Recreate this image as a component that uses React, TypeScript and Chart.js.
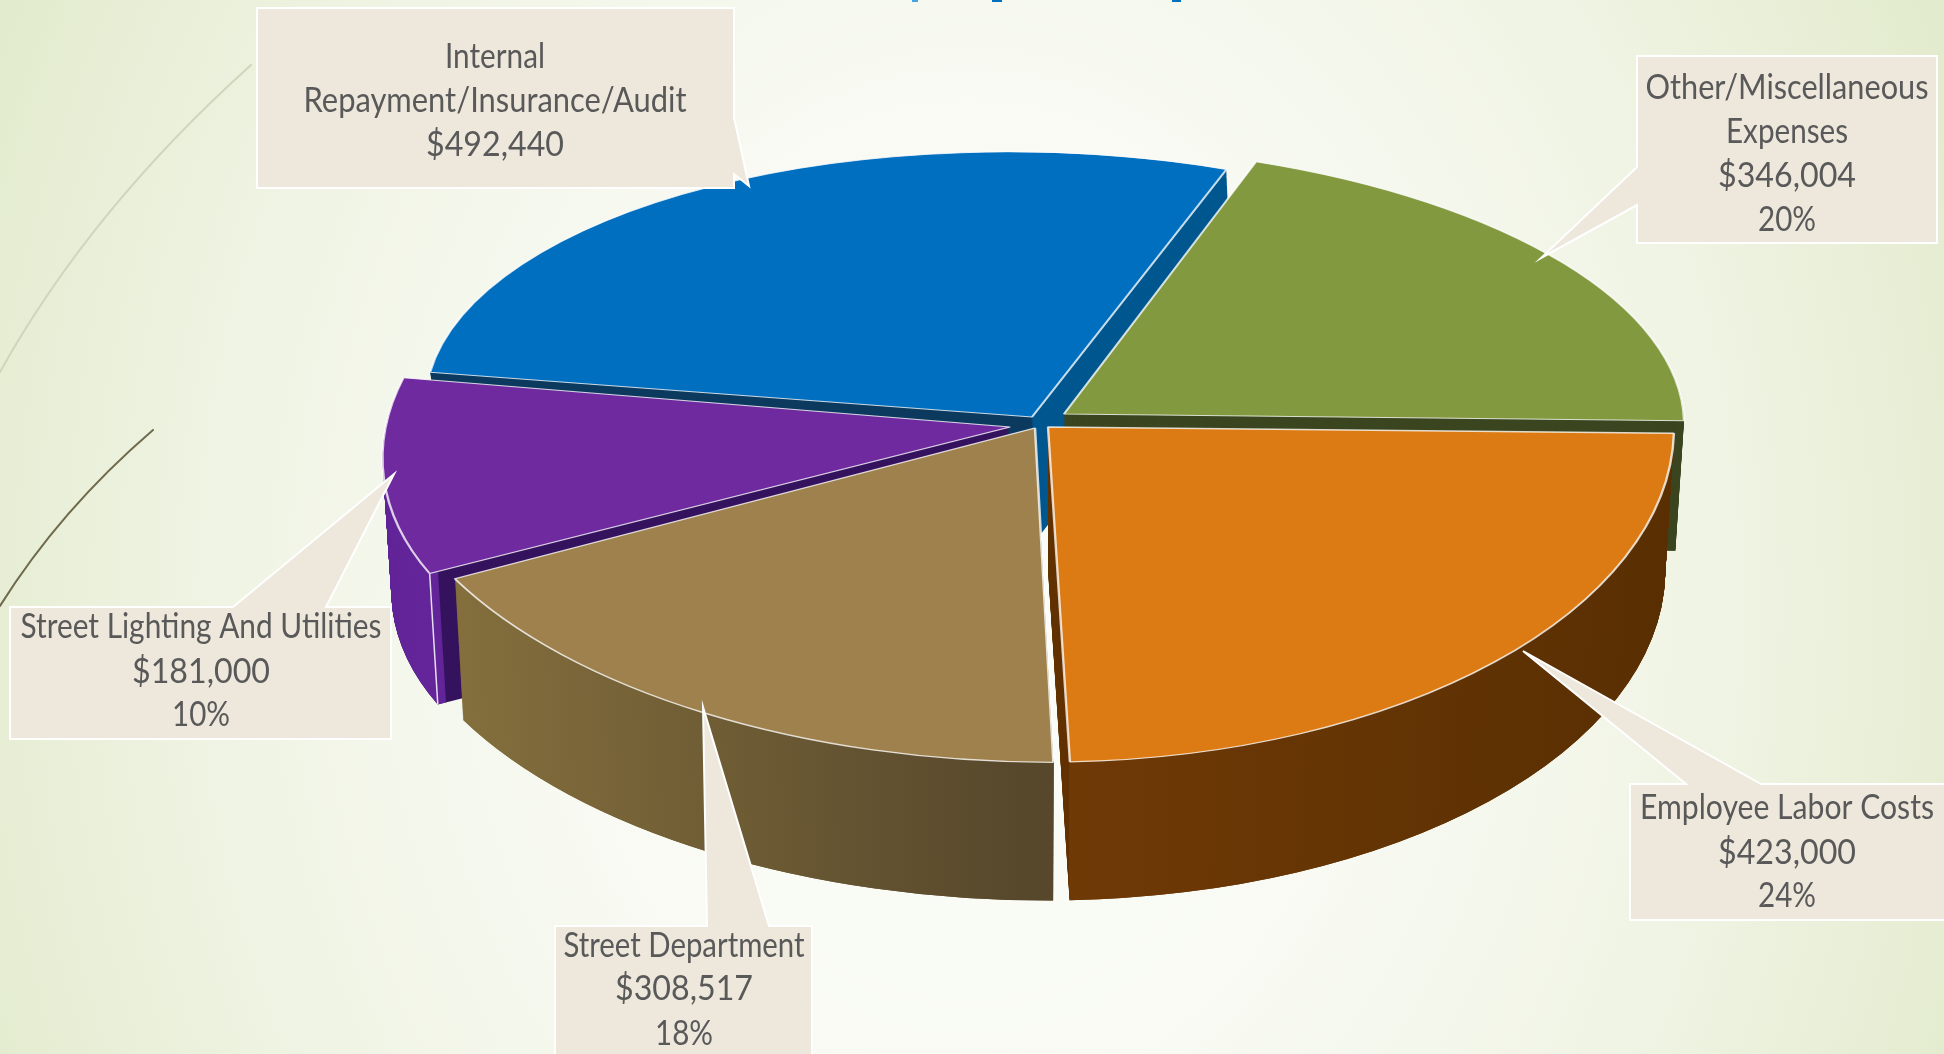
import React, { useEffect, useRef } from "react";
import { Chart, registerables } from "chart.js";

Chart.register(...registerables);

const categories = [
  "Internal Repayment/Insurance/Audit",
  "Other/Miscellaneous Expenses",
  "Employee Labor Costs",
  "Street Department",
  "Street Lighting And Utilities",
];
const amounts = [492440, 346004, 423000, 308517, 181000];
const topColors = ["#006fc0", "#82993f", "#dc7b14", "#9e814d", "#6e2a9e"];
const rimColors = ["#0b3a5e", "#3b4620", "#643405", "#6f5c36", "#632599"];
const startAngle = 278;

// projection of every slice: apex, horizontal and vertical radius vectors
const sliceViews = [
  { cx: 1032, cy: 417, ax: 607, ay: 8, bx: 6, by: 265, depth: 118, dx: 8 },
  { cx: 1064, cy: 414, ax: 620, ay: 5, bx: 13, by: 269, depth: 130, dx: 0 },
  { cx: 1048, cy: 427, ax: 626, ay: 4, bx: -7, by: 335, depth: 143, dx: 0 },
  { cx: 1035, cy: 428, ax: 658, ay: 14, bx: -12, by: 334, depth: 143, dx: 0 },
  { cx: 1010, cy: 427, ax: 623, ay: 6, bx: -75, by: 311, depth: 133, dx: 0 },
];
const paintOrder = [0, 1, 4, 3, 2];

const calloutLines = [
  ["Internal", "Repayment/Insurance/Audit", "$492,440"],
  ["Other/Miscellaneous", "Expenses", "$346,004", "20%"],
  ["Employee Labor Costs", "$423,000", "24%"],
  ["Street Department", "$308,517", "18%"],
  ["Street Lighting And Utilities", "$181,000", "10%"],
];
const calloutWidths = [
  [100, 383, 138],
  [283, 122, 138, 58],
  [294, 138, 58],
  [241, 138, 58],
  [361, 138, 58],
];
const calloutBoxes = [
  { shape: [[257, 8], [734, 8], [734, 118], [749, 186], [734, 174], [734, 188], [257, 188]], x: 495, ys: [57, 101, 145] },
  { shape: [[1637, 56], [1937, 56], [1937, 243], [1637, 243], [1637, 205], [1541, 258], [1637, 167]], x: 1787, ys: [88, 132, 176, 220] },
  { shape: [[1630, 784], [1686, 784], [1523, 651], [1761, 784], [1946, 784], [1946, 920], [1630, 920]], x: 1787, ys: [808, 853, 896] },
  { shape: [[555, 926], [707, 926], [703, 707], [769, 926], [812, 926], [812, 1060], [555, 1060]], x: 684, ys: [946, 989, 1034] },
  { shape: [[10, 607], [233, 607], [394, 474], [326, 607], [391, 607], [391, 739], [10, 739]], x: 201, ys: [627, 672, 715] },
];
// the feet of the slide's cropped title, the only part of it inside the picture
const titleFeet = [
  [912, 6, "#4aa3df"],
  [992, 10, "#0070c0"],
  [1172, 9, "#0070c0"],
];

const fontName = "Lato";

function wallFill(ctx: CanvasRenderingContext2D, i: number, el: any) {
  const R = el.outerRadius;
  if (i === 0) {
    const g = ctx.createLinearGradient(el.x - 1, 0, el.x + 1, 0);
    g.addColorStop(0, "#0b3a5e");
    g.addColorStop(1, "#00568f");
    return g;
  }
  if (i === 3) {
    const b = ctx.createLinearGradient(el.x - R, 0, el.x, 0);
    b.addColorStop(0, "#8a743f");
    b.addColorStop(1, "#57482c");
    return b;
  }
  if (i === 4) return "#35135e";
  return rimColors[i];
}

function rimFill(ctx: CanvasRenderingContext2D, i: number, el: any) {
  const R = el.outerRadius;
  if (i === 0 || i === 3) return wallFill(ctx, i, el);
  if (i === 2) {
    const b = ctx.createLinearGradient(el.x, 0, el.x + R, 0);
    b.addColorStop(0, "#703a06");
    b.addColorStop(1, "#592f02");
    return b;
  }
  return rimColors[i];
}

function drawSlice(ctx: CanvasRenderingContext2D, el: any, v: any, t: number, opts: any, inner?: number) {
  const R = el.outerRadius;
  const s = 1 - 0.014 * t;
  ctx.save();
  ctx.transform((v.ax * s) / R, (v.ay * s) / R, (v.bx * s) / R, (v.by * s) / R, v.cx + v.dx * t, v.cy + v.depth * t);
  ctx.translate(-el.x, -el.y);
  const p = Object.create(el);
  p.options = { ...el.options, ...opts };
  if (inner !== undefined) p.innerRadius = inner;
  p.draw(ctx);
  ctx.restore();
}

function rimPoint(el: any, v: any, angle: number, t: number) {
  const s = 1 - 0.014 * t;
  const sn = Math.cos(angle);
  const cs = Math.sin(angle);
  return [v.cx + v.dx * t + (v.ax * sn + v.bx * cs) * s, v.cy + v.depth * t + (v.ay * sn + v.by * cs) * s];
}

const pie3d = {
  id: "pie3d",
  beforeDraw(chart: any) {
    const ctx = chart.ctx as CanvasRenderingContext2D;
    ctx.save();
    ctx.lineCap = "round";
    ctx.strokeStyle = "#d0d5bb";
    ctx.lineWidth = 2;
    ctx.beginPath();
    ctx.moveTo(251, 65);
    ctx.quadraticCurveTo(90, 210, 0, 372);
    ctx.stroke();
    ctx.strokeStyle = "#6f6a4c";
    ctx.lineWidth = 2;
    ctx.beginPath();
    ctx.moveTo(153, 430);
    ctx.quadraticCurveTo(60, 510, 0, 606);
    ctx.stroke();
    titleFeet.forEach(([x, w, c]) => {
      ctx.fillStyle = c as string;
      ctx.fillRect(x as number, 0, w as number, 2);
    });
    ctx.restore();
  },
  beforeDatasetsDraw(chart: any) {
    const ctx = chart.ctx as CanvasRenderingContext2D;
    const arcs = chart.getDatasetMeta(0).data;
    for (const i of paintOrder) {
      const el = arcs[i];
      const v = sliceViews[i];
      const R = el.outerRadius;
      const cut = wallFill(ctx, i, el);
      const rim = rimFill(ctx, i, el);
      for (let d = v.depth; d > 0; d -= 1) {
        drawSlice(ctx, el, v, d / v.depth, { backgroundColor: cut, borderWidth: 0 });
      }
      for (let d = v.depth; d > 0; d -= 1) {
        drawSlice(ctx, el, v, d / v.depth, { backgroundColor: rim, borderWidth: 0 }, R * 0.985);
      }
      // white seam down the wall at the slice's visible corners
      const seams = i === 4 ? [el.startAngle] : [];
      ctx.save();
      ctx.strokeStyle = "rgba(255,255,255,0.85)";
      ctx.lineWidth = 1.5;
      for (const a of seams) {
        const [x0, y0] = rimPoint(el, v, a, 0);
        const [x1, y1] = rimPoint(el, v, a, 1);
        ctx.beginPath();
        ctx.moveTo(x0, y0);
        ctx.lineTo(x1, y1);
        ctx.stroke();
      }
      ctx.restore();
      drawSlice(ctx, el, v, 0, { backgroundColor: topColors[i], borderColor: "rgba(255,255,255,0.78)", borderWidth: 2 });
    }
    return false;
  },
  afterDraw(chart: any) {
    const ctx = chart.ctx as CanvasRenderingContext2D;
    calloutBoxes.forEach((box, i) => {
      ctx.save();
      ctx.beginPath();
      box.shape.forEach(([x, y], k) => (k ? ctx.lineTo(x, y) : ctx.moveTo(x, y)));
      ctx.closePath();
      ctx.fillStyle = "#ede7dc";
      ctx.strokeStyle = "#ffffff";
      ctx.lineWidth = 2;
      ctx.lineJoin = "miter";
      ctx.fill();
      ctx.stroke();
      ctx.fillStyle = "#595959";
      ctx.font = `400 35px ${fontName}`;
      ctx.textAlign = "center";
      ctx.textBaseline = "middle";
      calloutLines[i].forEach((line, k) => {
        const natural = ctx.measureText(line).width;
        ctx.save();
        ctx.translate(box.x, box.ys[k]);
        ctx.scale(calloutWidths[i][k] / natural, 1);
        ctx.fillText(line, 0, 0);
        ctx.restore();
      });
      ctx.restore();
    });
  },
};

export default function App() {
  const ref = useRef<HTMLCanvasElement | null>(null);
  useEffect(() => {
    const chart = new Chart(ref.current as HTMLCanvasElement, {
      type: "pie",
      data: {
        labels: categories,
        datasets: [{ data: amounts, backgroundColor: topColors, borderColor: "#ffffff", borderWidth: 2 }],
      },
      options: {
        responsive: false,
        animation: false,
        devicePixelRatio: 1,
        rotation: startAngle,
        layout: { padding: 0 },
        plugins: { legend: { display: false }, tooltip: { enabled: false } },
      },
      plugins: [pie3d],
    } as any);
    return () => chart.destroy();
  }, []);
  return (
    <div
      style={{
        position: "fixed",
        left: 0,
        top: 0,
        width: 1944,
        height: 1054,
        overflow: "hidden",
        background:
          "radial-gradient(ellipse 1080px 1350px at 970px 600px, #fcfdf9 0%, #f8faf3 38%, #eff3e2 72%, #e2ebcd 100%)",
      }}
    >
      <canvas ref={ref} width={1944} height={1054} style={{ display: "block" }} />
    </div>
  );
}
